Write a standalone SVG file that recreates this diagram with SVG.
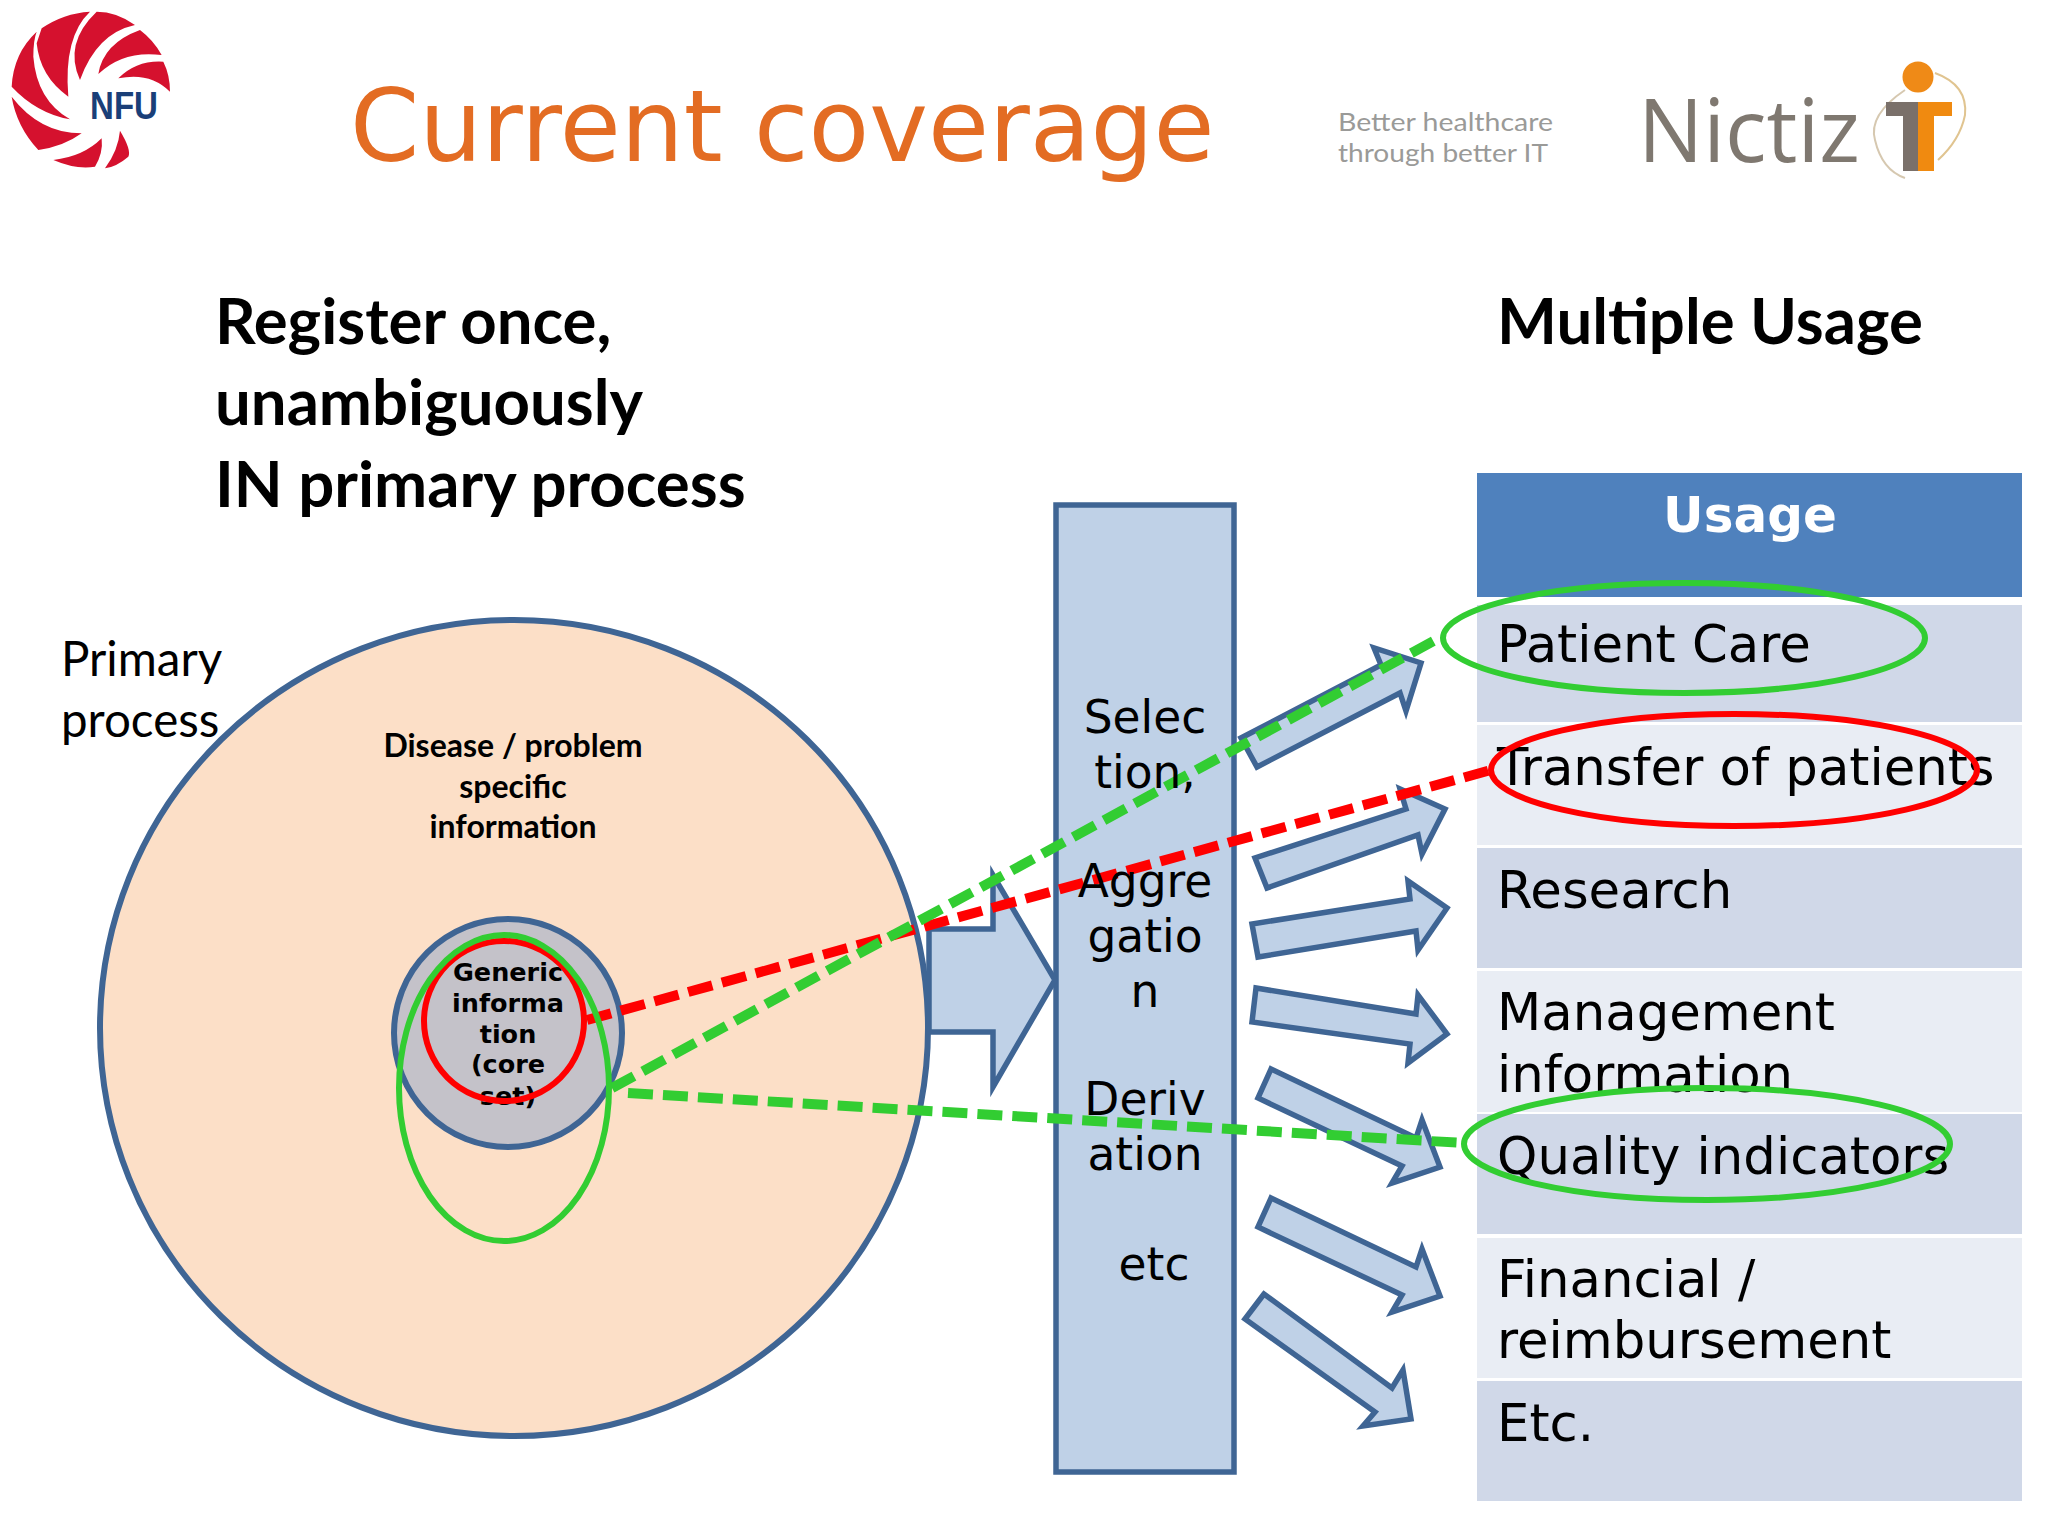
<svg xmlns="http://www.w3.org/2000/svg" width="2048" height="1536" viewBox="0 0 2048 1536">
<style>
.blue{fill:#bfd1e7;stroke:#3f6594;stroke-width:5.5;stroke-linejoin:miter}
.dj{font-family:"DejaVu Sans",sans-serif;fill:#000}
.djb{font-family:"DejaVu Sans",sans-serif;font-weight:bold;fill:#000}
.la{font-family:Lato,"Open Sans",sans-serif;fill:#000}
.lab{font-family:Lato,"Open Sans",sans-serif;font-weight:bold;fill:#000}
.m{text-anchor:middle}
.cell{font-size:51.3px}
.rt{font-size:45.5px}
.rowa{fill:#d0d8e8}
.rowb{fill:#e9edf4}
.ring{fill:none;stroke-width:6}
.g{stroke:#32cd32}
.r{stroke:#ff0000}
.dash{fill:none;stroke-width:10;stroke-dasharray:25 10}
</style>
<rect width="2048" height="1536" fill="#ffffff"/>
<g id="logo-nfu">
<g transform="scale(0.3333)" fill="#d5112e">
<path d="M110,95Q40,160 35,260Q110,340 210,358Q110,300 100,170Q100,120 110,95Z"/>
<path d="M125,85Q190,40 270,35Q190,110 205,290Q120,230 110,130Z"/>
<path d="M290,35Q350,35 405,75Q290,100 240,240Q190,130 290,35Z"/>
<path d="M420,90Q460,120 485,165Q370,150 295,222Q310,130 420,90Z"/>
<path d="M490,185Q510,225 510,275Q450,215 355,235Q410,180 490,185Z"/>
<path d="M35,290Q50,380 115,450Q190,440 245,400Q120,400 35,290Z"/>
<path d="M160,480Q230,510 285,500Q310,460 305,415Q250,470 160,480Z"/>
<path d="M360,392Q395,450 385,470Q350,500 315,505Q355,450 360,392Z"/>
</g>
<text x="90" y="119" font-family="Liberation Sans,sans-serif" font-weight="bold" font-size="38" fill="#1a3f78" textLength="68" lengthAdjust="spacingAndGlyphs">NFU</text>
</g>
<text id="title" x="350" y="160.5" font-family="DejaVu Sans,sans-serif" font-size="99.2" fill="#e36c23">Current coverage</text>
<g id="logo-nictiz">
<text x="1338" y="131" font-family="Lato,sans-serif" font-size="25.5" fill="#9a9a98" textLength="215" lengthAdjust="spacingAndGlyphs">Better healthcare</text>
<text x="1338" y="162" font-family="Lato,sans-serif" font-size="25.5" fill="#9a9a98" textLength="210" lengthAdjust="spacingAndGlyphs">through better IT</text>
<text x="1638" y="162" font-family="Open Sans,sans-serif" font-size="87" fill="#7f7870" textLength="222" lengthAdjust="spacingAndGlyphs">Nictiz</text>
<path d="M1905,90Q1868,115 1875,140Q1882,170 1905,178" fill="none" stroke="#d6c8b0" stroke-width="2"/>
<path d="M1935,73Q1968,85 1965,115Q1960,140 1938,160" fill="none" stroke="#e0c490" stroke-width="2"/>
<circle cx="1918" cy="77" r="15.5" fill="#ef8a17"/>
<rect x="1886" y="102" width="32" height="14" fill="#7a706a"/>
<rect x="1903" y="102" width="15" height="69" fill="#7a706a"/>
<rect x="1918" y="102" width="34" height="14" fill="#f08a10"/>
<rect x="1918" y="102" width="16" height="69" fill="#f08a10"/>
</g>
<text id="head-left" class="lab" font-size="63.5"><tspan x="215" y="344">Register once,</tspan><tspan x="215" y="425">unambiguously</tspan><tspan x="215" y="507">IN primary process</tspan></text>
<text id="head-right" class="lab" x="1497" y="344" font-size="63.5">Multiple Usage</text>
<text id="label-primary" class="la" font-size="47.5"><tspan x="61" y="676">Primary</tspan><tspan x="61" y="737">process</tspan></text>
<g id="node-primary">
<ellipse cx="514" cy="1028" rx="414" ry="408" fill="#fcdfc7" stroke="#3f6594" stroke-width="6"/>
<text class="lab m" font-size="32"><tspan x="513" y="757">Disease / problem</tspan><tspan x="513" y="798">specific</tspan><tspan x="513" y="838">information</tspan></text>
</g>
<g id="node-core">
<circle cx="508" cy="1033" r="114" fill="#c4c2c9" stroke="#3f6594" stroke-width="6"/>
<text class="djb m" font-size="25.5"><tspan x="508" y="981">Generic</tspan><tspan x="508" y="1012">informa</tspan><tspan x="508" y="1043">tion</tspan><tspan x="508" y="1073">(core</tspan><tspan x="508" y="1105">set)</tspan></text>
</g>
<g id="node-selection">
<rect x="1056" y="505" width="178" height="967" fill="#bfd1e7" stroke="#3f6594" stroke-width="5.5"/>
</g>
<g id="node-table">
<rect x="1477" y="473" width="545" height="124" fill="#4f81bd"/>
<text class="djb m" x="1750" y="532" font-size="50" style="fill:#fff">Usage</text>
<rect class="rowa" x="1477" y="605" width="545" height="117"/>
<rect class="rowb" x="1477" y="725" width="545" height="120"/>
<rect class="rowa" x="1477" y="848" width="545" height="120"/>
<rect class="rowb" x="1477" y="971" width="545" height="141"/>
<rect class="rowa" x="1477" y="1114" width="545" height="120"/>
<rect class="rowb" x="1477" y="1238" width="545" height="140"/>
<rect class="rowa" x="1477" y="1381" width="545" height="120"/>
<text class="dj cell" x="1497" y="662">Patient Care</text>
<text class="dj cell" x="1497" y="785">Transfer of patients</text>
<text class="dj cell" x="1497" y="908">Research</text>
<text class="dj cell" x="1497" y="1030">Management</text>
<text class="dj cell" x="1497" y="1092">information</text>
<text class="dj cell" x="1497" y="1174">Quality indicators</text>
<text class="dj cell" x="1497" y="1297">Financial /</text>
<text class="dj cell" x="1497" y="1358">reimbursement</text>
<text class="dj cell" x="1497" y="1441">Etc.</text>
</g>
<g id="connectors">
<polygon class="blue" points="929,929 993,929 993,875 1055,980 993,1087 993,1032 929,1032"/>
<polygon class="blue" points="1241,738 1257,767 1400,693 1406,711 1421,663 1374,648 1381,665"/>
<polygon class="blue" points="1255,858 1267,888 1418,835 1422,854 1445,809 1400,789 1406,809"/>
<polygon class="blue" points="1252,924 1258,957 1416,931 1418,950 1447,908 1408,881 1410,899"/>
<polygon class="blue" points="1256,988 1252,1022 1410,1044 1408,1063 1447,1034 1418,995 1416,1014"/>
<polygon class="blue" points="1271,1069 1258,1098 1402,1166 1392,1183 1440,1167 1422,1120 1416,1138"/>
<polygon class="blue" points="1271,1198 1258,1227 1402,1295 1392,1312 1440,1296 1422,1249 1416,1267"/>
<polygon class="blue" points="1264,1294 1245,1319 1375,1412 1363,1426 1411,1419 1403,1370 1392,1388"/>
<line class="dash r" x1="587" y1="1020" x2="1491" y2="770"/>
<line class="dash g" x1="612" y1="1088" x2="1441" y2="637"/>
<line class="dash g" x1="628" y1="1093" x2="1463" y2="1143"/>
</g>
<g id="selection-text">
<text class="dj m rt"><tspan x="1145" y="733">Selec</tspan><tspan x="1145" y="788">tion,</tspan><tspan x="1145" y="897">Aggre</tspan><tspan x="1145" y="952">gatio</tspan><tspan x="1145" y="1007">n</tspan><tspan x="1145" y="1115">Deriv</tspan><tspan x="1145" y="1170">ation</tspan><tspan x="1154" y="1280">etc</tspan></text>
</g>
<g id="highlights">
<circle class="ring r" cx="504" cy="1021" r="80"/>
<ellipse class="ring g" cx="504" cy="1088" rx="105" ry="153"/>
<ellipse class="ring g" cx="1684" cy="638" rx="241" ry="55"/>
<ellipse class="ring r" cx="1734" cy="770" rx="243" ry="56"/>
<ellipse class="ring g" cx="1707" cy="1144" rx="243" ry="56"/>
</g>
</svg>
